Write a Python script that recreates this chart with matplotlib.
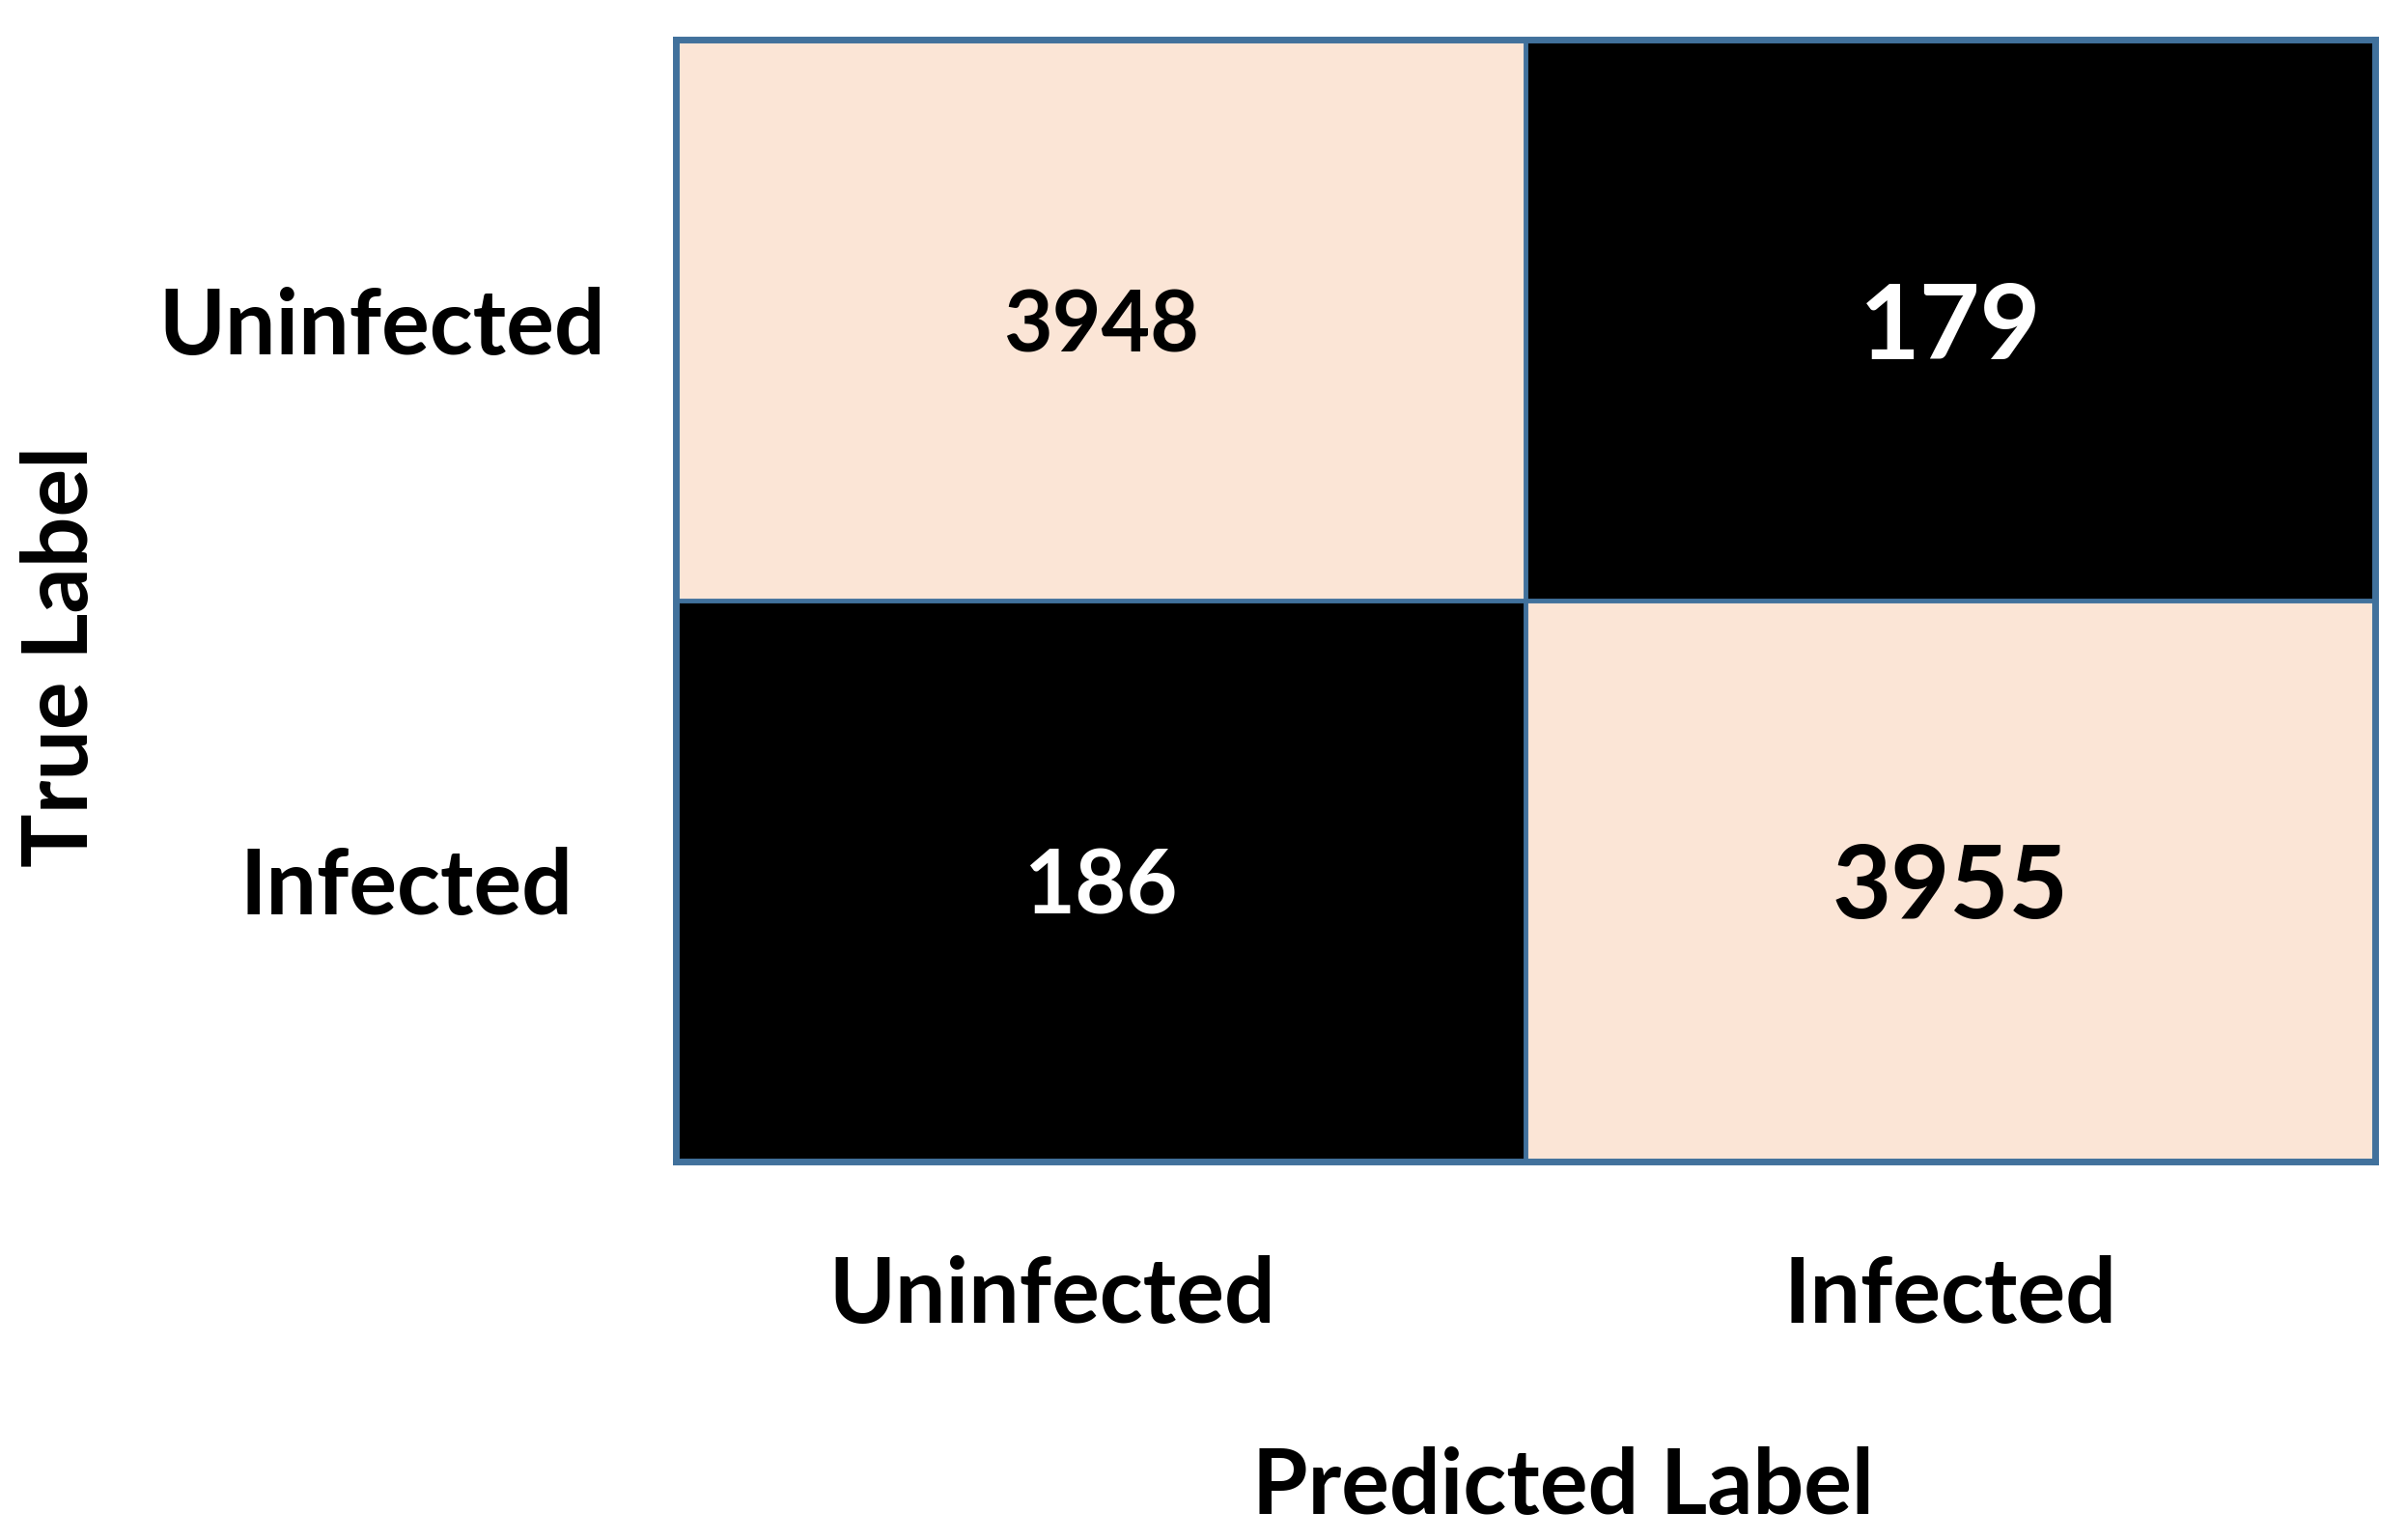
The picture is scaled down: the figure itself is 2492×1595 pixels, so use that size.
import numpy as np
import matplotlib.pyplot as plt
from matplotlib.colors import ListedColormap
from matplotlib.transforms import ScaledTranslation

# confusion matrix values (rows = true label, cols = predicted label)
class_names = ['Uninfected', 'Infected']
counts = np.array([[3948, 179],
                   [186, 3955]])

light = '#FBE5D6'
edge = '#41719C'
num_sizes = [[63, 78], [66, 76]]

plt.rcParams['font.family'] = ['Lato', 'DejaVu Sans']
plt.rcParams['font.weight'] = 'bold'

fig = plt.figure(figsize=(24.92, 15.95), dpi=100)
ax = fig.add_axes([700 / 2492, 392 / 1595, 1760 / 2492, 1162 / 1595])

cmap = ListedColormap(['black', light])
ax.imshow(counts, cmap=cmap, aspect='auto', vmin=counts.min(), vmax=counts.max())

# cell grid
ax.axvline(0.5, color=edge, lw=3.5)
ax.axhline(0.5, color=edge, lw=3.5)
for side in ax.spines.values():
    side.set_color(edge)
    side.set_linewidth(5)

thresh = counts.max() / 2
for i in range(2):
    for j in range(2):
        c = 'black' if counts[i, j] > thresh else 'white'
        ax.text(j, i, str(counts[i, j]), ha='center', va='center_baseline',
                color=c, fontsize=num_sizes[i][j], fontweight='bold')

ax.set_xticks(range(2))
ax.set_xticklabels(class_names, fontsize=67, fontweight='bold')
ax.set_yticks(range(2))
ax.set_yticklabels(class_names, fontsize=67, fontweight='bold', ha='center')
ax.tick_params(axis='both', length=0)
ax.tick_params(axis='x', pad=70)
ax.tick_params(axis='y', pad=210)

# small per-label nudges to follow the original placement
for lbl, dx in zip(ax.get_xticklabels(), [-0.5, 0]):
    lbl.set_transform(lbl.get_transform() + ScaledTranslation(dx, 0, fig.dpi_scale_trans))
for lbl, dx in zip(ax.get_yticklabels(), [-0.13, 0.13]):
    lbl.set_transform(lbl.get_transform() + ScaledTranslation(dx, 0, fig.dpi_scale_trans))

ax.set_xlabel('Predicted Label', fontsize=67, fontweight='bold')
ax.set_ylabel('True Label', fontsize=67, fontweight='bold')
ax.xaxis.set_label_coords(0.522, -0.254)
ax.yaxis.set_label_coords(-0.337, 0.45)

fig.savefig('out.png', dpi=100)
